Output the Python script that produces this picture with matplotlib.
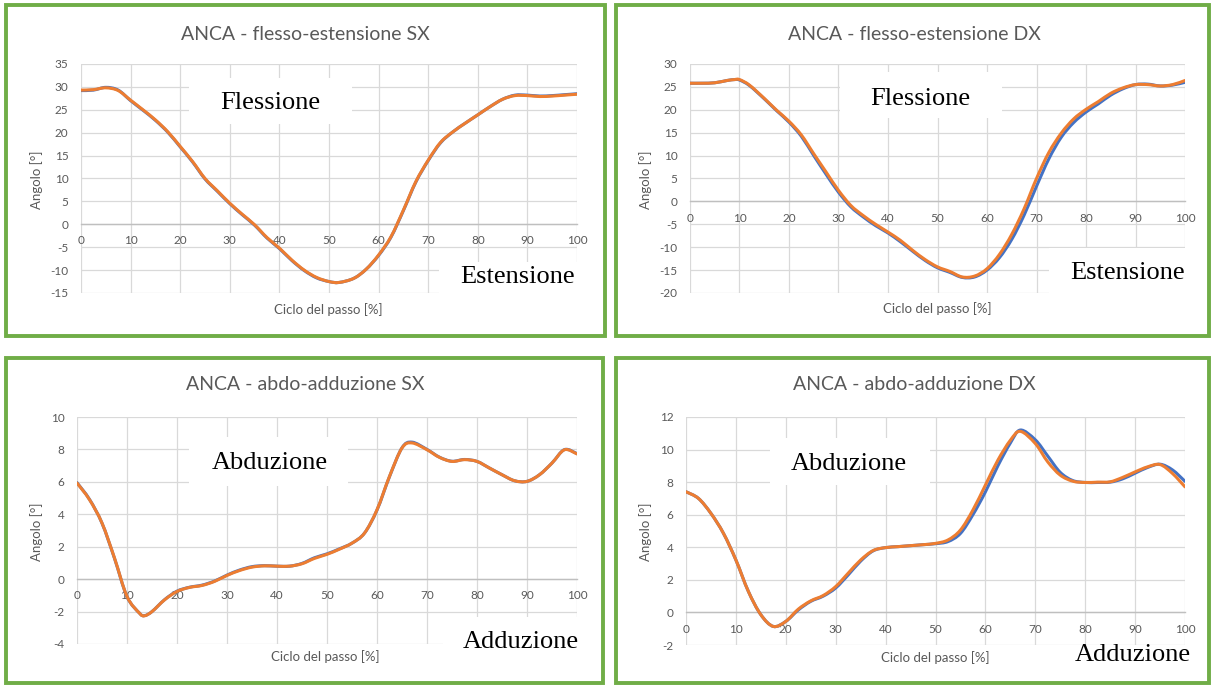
import numpy as np
import matplotlib
matplotlib.use('Agg')
import matplotlib.pyplot as plt
from matplotlib.patches import Rectangle, PathPatch
from matplotlib.path import Path

# ---- data (x = % of gait cycle) ----
x_flex_sx = [0, 2.5, 5, 7.5, 10, 12.5, 15, 17.5, 20, 22.5, 25, 27.5, 30, 32.5, 35, 37.5, 40, 42.5, 45, 47.5,
             50, 52, 55, 57.5, 60, 62.5, 65, 67.5, 70, 72.5, 75, 77.5, 80, 82.5, 85, 87.5, 90, 92.5, 95, 97.5, 100]
flex_sx_orange = [29.3, 29.4, 29.8, 29.2, 27.1, 25.0, 22.8, 20.2, 17.0, 13.7, 10.0, 7.3, 4.6, 2.2, -0.1, -2.9, -5.2, -7.8, -10.0, -11.6,
                  -12.5, -12.7, -11.8, -9.8, -6.7, -2.7, 3.1, 9.3, 14.0, 17.9, 20.2, 22.1, 23.9, 25.7, 27.3, 28.1, 28.1, 27.9, 28.0, 28.2, 28.4]
flex_sx_blue = [29.2, 29.3, 29.9, 29.3, 27.0, 24.9, 22.7, 20.1, 16.9, 13.6, 9.9, 7.2, 4.5, 2.1, -0.2, -3.0, -5.3, -7.9, -10.1, -11.7,
                -12.5, -12.7, -11.8, -9.8, -6.8, -2.8, 3.0, 9.2, 13.9, 17.8, 20.2, 22.1, 23.9, 25.7, 27.3, 28.2, 28.2, 28.0, 28.1, 28.3, 28.5]

x_flex_dx = [0, 2.5, 5, 7.5, 9, 10, 12, 15, 17.5, 20, 22.5, 25, 27.5, 30, 32.5, 35, 37.5, 40, 42.5, 45,
             47.5, 50, 52.5, 55, 57.5, 60, 62.5, 65, 67.5, 70, 72.5, 75, 77.5, 80, 82.5, 85, 87.5, 90, 92.5, 95, 97.5, 100]
flex_dx_orange = [25.8, 25.8, 25.9, 26.4, 26.6, 26.6, 25.4, 22.5, 19.9, 17.5, 14.5, 10.4, 6.4, 2.4, -0.9, -3.1, -5.0, -6.7, -8.5, -10.7,
                  -12.7, -14.3, -15.3, -16.5, -16.3, -14.7, -11.6, -7.2, -1.6, 5.0, 10.7, 14.9, 18.0, 20.1, 21.8, 23.6, 24.8, 25.5, 25.5, 25.2, 25.5, 26.4]
flex_dx_blue = [25.8, 25.8, 25.9, 26.4, 26.6, 26.5, 25.3, 22.4, 19.8, 17.3, 14.2, 10.0, 5.9, 2.0, -1.2, -3.4, -5.3, -6.9, -8.8, -10.9,
                -12.9, -14.5, -15.5, -16.6, -16.5, -15.0, -12.3, -8.3, -3.0, 3.3, 9.3, 14.0, 17.2, 19.5, 21.3, 23.2, 24.6, 25.5, 25.6, 25.2, 25.4, 26.0]

x_abd_sx = [0, 2.5, 5, 7.5, 10, 12.5, 13.5, 15, 17.5, 20, 22.5, 25, 27.5, 30, 32.5, 35, 37.5, 40, 42.5, 45,
            47.5, 50, 52.5, 55, 57.5, 60, 62.5, 65, 67, 70, 72.5, 75, 77.5, 80, 82.5, 85, 87.5, 90, 92.5, 95, 97.5, 100]
abd_sx_orange = [5.93, 4.9, 3.46, 1.3, -1.07, -2.1, -2.26, -2.0, -1.28, -0.76, -0.51, -0.39, -0.14, 0.23, 0.53, 0.74, 0.82, 0.80, 0.80, 0.95,
                 1.28, 1.53, 1.85, 2.22, 2.84, 4.28, 6.34, 8.09, 8.40, 7.98, 7.51, 7.26, 7.37, 7.26, 6.85, 6.44, 6.07, 6.03, 6.44, 7.16, 7.98, 7.72]
abd_sx_blue = [5.95, 4.92, 3.45, 1.28, -1.08, -2.1, -2.25, -2.0, -1.27, -0.74, -0.5, -0.37, -0.12, 0.25, 0.56, 0.77, 0.83, 0.80, 0.80, 0.97,
               1.32, 1.56, 1.87, 2.22, 2.84, 4.26, 6.32, 8.1, 8.45, 8.0, 7.52, 7.27, 7.38, 7.26, 6.85, 6.44, 6.07, 6.03, 6.44, 7.16, 7.99, 7.74]

x_abd_dx = [0, 2.5, 5, 7.5, 10, 12.5, 15, 17.5, 20, 22.5, 25, 27.5, 30, 32.5, 35, 37.5, 40, 42.5, 45, 47.5,
            50, 52.5, 55, 57.5, 60, 62.5, 65, 67, 70, 72.5, 75, 77.5, 80, 82.5, 85, 87.5, 90, 92.5, 95, 97.5, 100]
abd_dx_orange = [7.41, 7.0, 6.08, 4.86, 3.22, 1.29, -0.14, -0.86, -0.55, 0.2, 0.71, 1.04, 1.59, 2.41, 3.22, 3.80, 3.98, 4.04, 4.10, 4.16,
                 4.24, 4.45, 5.06, 6.29, 7.82, 9.35, 10.57, 11.12, 10.37, 9.24, 8.43, 8.06, 7.98, 8.0, 8.02, 8.29, 8.63, 8.94, 9.08, 8.53, 7.71]
abd_dx_blue = [7.41, 7.0, 6.08, 4.86, 3.22, 1.29, -0.14, -0.86, -0.55, 0.15, 0.68, 1.0, 1.5, 2.3, 3.15, 3.78, 3.98, 4.04, 4.10, 4.16,
               4.22, 4.35, 4.85, 6.0, 7.4, 9.0, 10.4, 11.2, 10.6, 9.6, 8.6, 8.1, 7.98, 7.98, 8.0, 8.2, 8.55, 8.9, 9.1, 8.75, 8.05]

titles = ['ANCA - flesso-estensione SX', 'ANCA - flesso-estensione DX',
          'ANCA - abdo-adduzione SX', 'ANCA - abdo-adduzione DX']
y_ranges = [(-15, 35, 5), (-20, 30, 5), (-4, 10, 2), (-2, 12, 2)]
top_words = ['Flessione', 'Flessione', 'Abduzione', 'Abduzione']
bottom_words = ['Estensione', 'Estensione', 'Adduzione', 'Adduzione']
x_label = 'Ciclo del passo [%]'
y_label = 'Angolo [°]'

# ---- layout (pixels in a 1212x685 canvas) ----
W, H = 1212, 685
GREY = '#595959'
BLUE = '#4472C4'
ORANGE = '#ED7D31'
GREEN = '#70AD47'

plt.rcParams['font.family'] = ['Lato', 'DejaVu Sans']
plt.rcParams['axes.unicode_minus'] = False

fig = plt.figure(figsize=(W / 100, H / 100), dpi=100)
fig.patch.set_facecolor('white')


def fx(x):
    return x / W


def fy(y):
    return 1 - y / H


def add_rect(x0, y0, x1, y1, **kw):
    fig.add_artist(Rectangle((fx(x0), fy(y1)), (x1 - x0) / W, (y1 - y0) / H,
                             transform=fig.transFigure, **kw))


def smooth_line(ax, xs, ys, **kw):
    # Excel-style "smoothed line": bezier through the points, drawn in data coords
    pts = np.column_stack([xs, ys]).astype(float)
    verts = [pts[0]]
    codes = [Path.MOVETO]
    n = len(pts)
    for k in range(n - 1):
        p0 = pts[k - 1] if k > 0 else pts[k]
        p1, p2 = pts[k], pts[k + 1]
        p3 = pts[k + 2] if k + 2 < n else pts[k + 1]
        verts += [p1 + (p2 - p0) / 6, p2 - (p3 - p1) / 6, p2]
        codes += [Path.CURVE4] * 3
    ax.add_patch(PathPatch(Path(verts, codes), fill=False, transform=ax.transData,
                           capstyle='round', joinstyle='round', **kw))


layout = [
    dict(border=(6, 5, 605, 336), axes=(81, 64, 577, 293), title=(305, 34), xl=(328, 310), yl=(37, 180),
         tbox=(189, 78, 352, 124), ttxt=(270, 103), bbox=(439, 262, 592, 302), btxt=(518, 277)),
    dict(border=(616, 5, 1209, 336), axes=(690, 64, 1185, 293), title=(914, 34), xl=(937, 309), yl=(646, 180),
         tbox=(840, 72, 1002, 118), ttxt=(920, 99), bbox=(1049, 248, 1195, 302), btxt=(1128, 273)),
    dict(border=(6, 358, 603, 683), axes=(77, 417, 577, 644), title=(305, 385), xl=(325, 657), yl=(37, 532),
         tbox=(189, 437, 348, 486), ttxt=(270, 463), bbox=(443, 617, 598, 672), btxt=(521, 642)),
    dict(border=(616, 358, 1209, 683), axes=(686, 417, 1185, 645), title=(914, 385), xl=(935, 658), yl=(646, 532),
         tbox=(770, 438, 930, 485), ttxt=(849, 464), bbox=None, btxt=(1133, 655)),
]

series = [(x_flex_sx, flex_sx_blue, flex_sx_orange), (x_flex_dx, flex_dx_blue, flex_dx_orange),
          (x_abd_sx, abd_sx_blue, abd_sx_orange), (x_abd_dx, abd_dx_blue, abd_dx_orange)]

for i, L in enumerate(layout):
    bx0, by0, bx1, by1 = L['border']
    add_rect(bx0, by0, bx1, by1, fill=False, ec=GREEN, lw=2.8, zorder=1)

    l, t, r, b = L['axes']
    ax = fig.add_axes([fx(l), fy(b), (r - l) / W, (b - t) / H])
    xs, yb, yo = series[i]
    smooth_line(ax, xs, yb, ec=BLUE, lw=2.2, zorder=3)
    smooth_line(ax, xs, yo, ec=ORANGE, lw=2.2, zorder=4)

    lo, hi, step = y_ranges[i]
    ax.set_xlim(0, 100)
    ax.set_ylim(lo, hi)
    ax.set_xticks(np.arange(0, 101, 10))
    ax.set_yticks(np.arange(lo, hi + step / 2, step))
    ax.grid(True, color='#D9D9D9', lw=0.9)
    ax.set_axisbelow(True)
    for s in ['top', 'right', 'left']:
        ax.spines[s].set_visible(False)
    ax.spines['bottom'].set_position(('data', 0))
    ax.spines['bottom'].set_color('#BFBFBF')
    ax.spines['bottom'].set_linewidth(1.0)
    ax.spines['bottom'].set_zorder(2.5)
    ax.tick_params(length=0, labelsize=8.5, labelcolor=GREY)
    ax.tick_params(axis='x', pad=8)
    ax.tick_params(axis='y', pad=9)

    fig.text(fx(L['title'][0]), fy(L['title'][1]), titles[i], ha='center', va='center',
             fontsize=14, color=GREY)
    fig.text(fx(L['xl'][0]), fy(L['xl'][1]), x_label, ha='center', va='center',
             fontsize=9.5, color=GREY)
    fig.text(fx(L['yl'][0]), fy(L['yl'][1]), y_label, ha='center', va='center',
             rotation=90, fontsize=9.5, color=GREY)

    add_rect(*L['tbox'], fc='white', ec='none', zorder=2)
    fig.text(fx(L['ttxt'][0]), fy(L['ttxt'][1]), top_words[i], ha='center', va='center',
             family='Liberation Serif', fontsize=19, color='black', zorder=3)
    if L['bbox'] is not None:
        add_rect(*L['bbox'], fc='white', ec='none', zorder=2)
    fig.text(fx(L['btxt'][0]), fy(L['btxt'][1]), bottom_words[i], ha='center', va='center',
             family='Liberation Serif', fontsize=19, color='black', zorder=3)

fig.savefig('out.png', dpi=100)
